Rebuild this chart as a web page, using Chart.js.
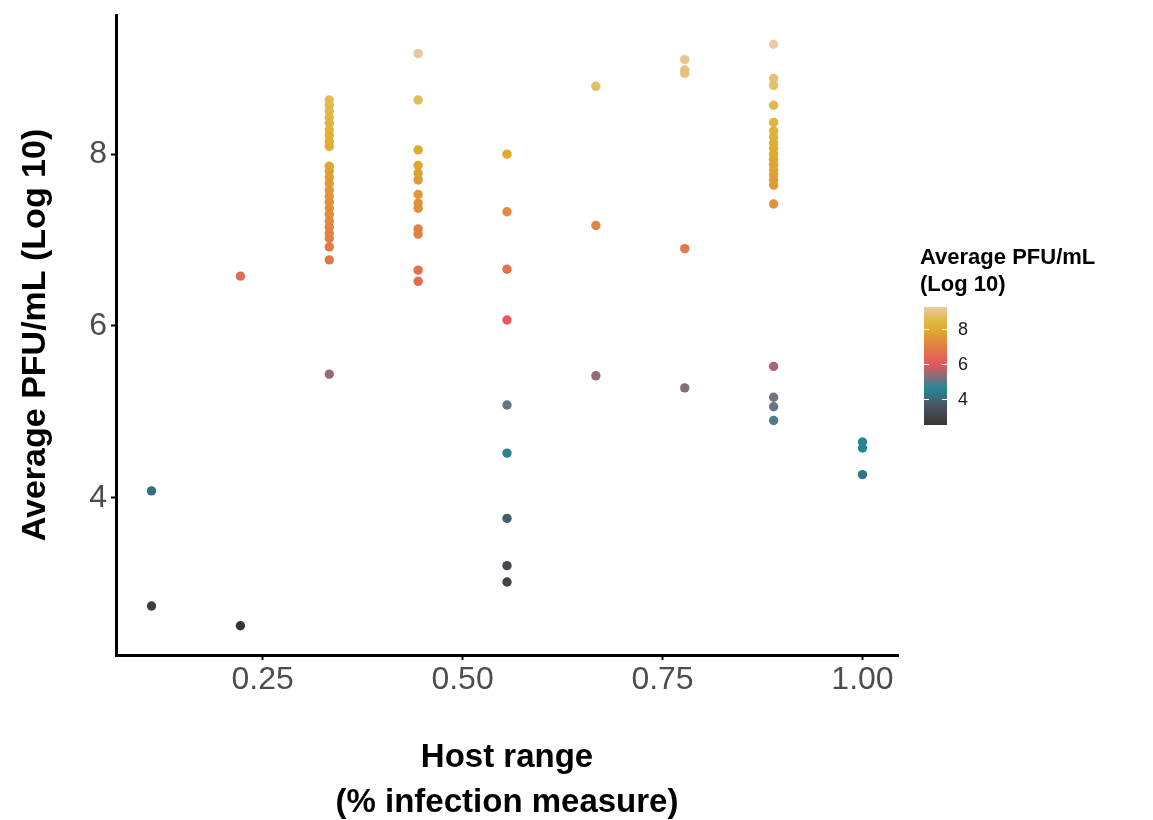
<!DOCTYPE html>
<html>
<head>
<meta charset="utf-8">
<script src="https://cdn.jsdelivr.net/npm/chart.js@4"></script>
<style>
  html, body { margin: 0; padding: 0; background: #fff; }
  #wrap { width: 1153px; height: 820px; }
</style>
</head>
<body>
<div id="wrap"><canvas id="scatterChart" width="1153" height="820"></canvas></div>
<script>
// host range levels (fraction of hosts infected)
const hostRange = [1/9, 2/9, 3/9, 4/9, 5/9, 6/9, 7/9, 8/9, 1]

// average PFU/mL (log10) per host range level
const pfu1 = [4.08, 2.74]
const pfu2 = [6.58, 2.51]
const pfu3 = [8.63, 8.57, 8.50, 8.43, 8.36, 8.28, 8.22, 8.15, 8.09, 7.86, 7.80, 7.73, 7.66, 7.58, 7.51, 7.44, 7.37, 7.30, 7.22, 7.15, 7.08, 7.02, 6.92, 6.77, 5.44]
const pfu4 = [9.17, 8.63, 8.05, 7.87, 7.78, 7.70, 7.53, 7.43, 7.37, 7.13, 7.07, 6.65, 6.52]
const pfu5 = [8.00, 7.33, 6.66, 6.07, 5.08, 4.52, 3.76, 3.21, 3.02]
const pfu6 = [8.79, 7.17, 5.42]
const pfu7 = [9.10, 8.98, 8.94, 6.90, 5.28]
const pfu8 = [9.28, 8.88, 8.80, 8.57, 8.37, 8.27, 8.20, 8.13, 8.07, 8.00, 7.94, 7.88, 7.82, 7.76, 7.70, 7.64, 7.42, 5.53, 5.17, 5.06, 4.90]
const pfu9 = [4.65, 4.58, 4.27]

const pfuColumns = [pfu1, pfu2, pfu3, pfu4, pfu5, pfu6, pfu7, pfu8, pfu9]

const xTicks = [0.25, 0.5, 0.75, 1.0]
const yTicks = [4, 6, 8]
const legendTicks = [4, 6, 8]

// colour scale stops (value, rgb)
const colourStops = [
    [2.5, [60, 52, 52]],
    [3.6, [74, 84, 100]],
    [4.6, [38, 135, 150]],
    [6.0, [230, 86, 96]],
    [7.0, [226, 126, 70]],
    [8.0, [222, 172, 45]],
    [8.6, [226, 186, 80]],
    [9.3, [236, 202, 172]]
]

const colourFor = (v) => {
    if (v <= colourStops[0][0]) return `rgb(${colourStops[0][1].join(',')})`
    for (let i = 1; i < colourStops.length; i++) {
        const [v1, c1] = colourStops[i]
        const [v0, c0] = colourStops[i - 1]
        if (v <= v1) {
            const t = (v - v0) / (v1 - v0)
            const c = c0.map((x, k) => Math.round(x + (c1[k] - x) * t))
            return `rgb(${c.join(',')})`
        }
    }
    return `rgb(${colourStops[colourStops.length - 1][1].join(',')})`
}

const points = []
pfuColumns.forEach((col, i) => {
    col.forEach(v => points.push({x: hostRange[i], y: v}))
})

const allValues = points.map(p => p.y)
const vMin = Math.min(...allValues)
const vMax = Math.max(...allValues)

const FONT = "'Liberation Sans', Arial, sans-serif"

// colour bar legend, drawn after the chart
const colourBar = {
    id: 'colourBar',
    afterDraw(chart) {
        const ctx = chart.ctx
        const left = 924, width = 23, top = 307, height = 118
        const yOf = v => top + (vMax - v) / (vMax - vMin) * height
        ctx.save()
        ctx.fillStyle = '#000'
        ctx.font = `bold 22px ${FONT}`
        ctx.textBaseline = 'middle'
        ctx.textAlign = 'left'
        ctx.fillText('Average PFU/mL', 920, 258)
        ctx.fillText('(Log 10)', 920, 285)
        for (let py = 0; py < height; py++) {
            const v = vMax - (py + 0.5) / height * (vMax - vMin)
            ctx.fillStyle = colourFor(v)
            ctx.fillRect(left, top + py, width, 1)
        }
        ctx.strokeStyle = '#fff'
        ctx.lineWidth = 1
        ctx.font = `18px ${FONT}`
        ctx.fillStyle = '#1a1a1a'
        legendTicks.forEach(t => {
            const y = Math.round(yOf(t)) + 0.5
            ctx.beginPath()
            ctx.moveTo(left, y); ctx.lineTo(left + 5, y)
            ctx.moveTo(left + width - 5, y); ctx.lineTo(left + width, y)
            ctx.stroke()
            ctx.fillText(String(t), 958, y + 1)
        })
        ctx.restore()
    }
}

new Chart("scatterChart", {
    type: "scatter",
    data: {
        datasets: [{
            data: points,
            pointRadius: 4.7,
            pointHoverRadius: 4.7,
            pointBorderWidth: 0,
            pointBackgroundColor: ctx => colourFor(ctx.raw ? ctx.raw.y : 5),
            pointBorderColor: 'rgba(0,0,0,0)'
        }]
    },
    options: {
        responsive: false,
        animation: false,
        events: [],
        layout: {padding: {top: 15, right: 255, left: 15, bottom: 0}},
        plugins: {legend: {display: false}, tooltip: {enabled: false}},
        scales: {
            x: {
                type: 'linear',
                min: 0.0667,
                max: 1.0444,
                afterBuildTicks: s => { s.ticks = xTicks.map(v => ({value: v})) },
                afterFit: s => { s.height = 165; s.paddingLeft = 0; s.paddingRight = 0 },
                ticks: {
                    color: '#4d4d4d',
                    font: {family: FONT, size: 32},
                    padding: 1,
                    callback: v => v.toFixed(2)
                },
                grid: {display: true, drawOnChartArea: false, tickLength: 5, tickWidth: 2, color: '#000'},
                border: {color: '#000', width: 3},
                title: {
                    display: true,
                    text: ['Host range', '(% infection measure)'],
                    color: '#000',
                    font: {family: FONT, size: 33, weight: 'bold', lineHeight: 1.36},
                    padding: {top: 0, bottom: -5}
                }
            },
            y: {
                type: 'linear',
                min: 2.17,
                max: 9.62,
                afterBuildTicks: s => { s.ticks = yTicks.map(v => ({value: v})) },
                afterFit: s => { s.width = 101; s.paddingTop = 0; s.paddingBottom = 0 },
                ticks: {
                    color: '#4d4d4d',
                    font: {family: FONT, size: 32},
                    padding: 4
                },
                grid: {display: true, drawOnChartArea: false, tickLength: 5, tickWidth: 2, color: '#000'},
                border: {color: '#000', width: 3},
                title: {
                    display: true,
                    text: 'Average PFU/mL (Log 10)',
                    color: '#000',
                    font: {family: FONT, size: 34, weight: 'bold', lineHeight: 1.2},
                    padding: {top: 0, bottom: 0}
                }
            }
        }
    },
    plugins: [colourBar]
})
</script>
</body>
</html>
